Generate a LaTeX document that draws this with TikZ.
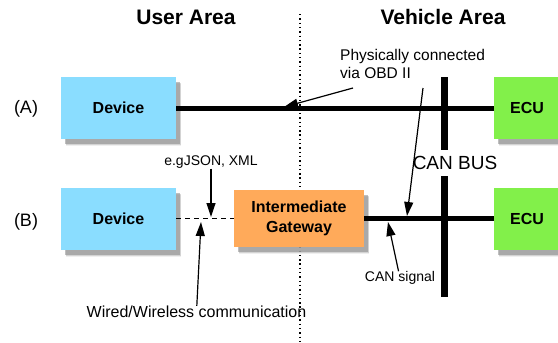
\documentclass[tikz,border=0pt]{standalone}
\usepackage{fontspec}
\setmainfont{Liberation Sans}
\usepackage{tikz}
\usetikzlibrary{arrows.meta,positioning,shadows}

\begin{document}
\begin{tikzpicture}[x=1pt,y=-1pt,
    area/.style = {font=\fontsize{21}{25}\selectfont\bfseries},
    note/.style = {font=\fontsize{15.5}{18}\selectfont, inner sep=0pt},
    small/.style = {font=\fontsize{14}{17}\selectfont, inner sep=0pt},
    block/.style = {inner sep=0pt, font=\fontsize{16}{20}\selectfont\bfseries,
        drop shadow={shadow xshift=5pt, shadow yshift=-7pt, fill=black!12, rounded corners=4pt},
        drop shadow={shadow xshift=4.5pt, shadow yshift=-6pt, fill=black!28, rounded corners=3pt},
        drop shadow={shadow xshift=4pt, shadow yshift=-5pt, fill=black!50, rounded corners=2pt}},
    device/.style = {block, fill={rgb,255:red,138;green,221;blue,255}, minimum width=115pt, minimum height=62pt},
    ecu/.style = {block, fill={rgb,255:red,130;green,240;blue,74}, minimum width=66pt, minimum height=62pt},
    gateway/.style = {block, fill={rgb,255:red,255;green,170;blue,90}, minimum width=130pt, minimum height=57pt, align=center},
    wire/.style = {line width=5pt},
    pointer/.style = {line width=1.2pt, -{Triangle[length=14pt,width=9pt]}}]

    \useasboundingbox (0,0) rectangle (558,343);

    % areas
    \node [area] (user) at (186,17) {User Area};
    \node [area] (vehicle) at (443,17) {Vehicle Area};
    \coordinate (sepTop) at (300,14);
    \coordinate (sepBot) at (300,343);
    \draw [line width=1.3pt, dash pattern=on 1.4pt off 2.9pt] (sepTop) -- (sepBot);

    % CAN bus
    \coordinate (busTop) at (444,77);
    \coordinate (busBot) at (444,297);
    \draw [line width=7pt] (busTop) -- (busBot);
    \node [font=\fontsize{19}{22}\selectfont, fill=white, inner xsep=1pt, inner ysep=0pt,
        minimum height=26pt] (busLabel) at (455,163) {CAN BUS};

    % row (A)
    \node [font=\fontsize{18}{21}\selectfont] (rowA) at (26,109) {(A)};
    \node [device] (devA) at (118.5,108) {Device};
    \node [ecu] (ecuA) at (527,108) {ECU};
    \draw [wire] (devA) -- (ecuA);

    % row (B)
    \node [font=\fontsize{18}{21}\selectfont] (rowB) at (26,222) {(B)};
    \node [device] (devB) at (118.5,218.5) {Device};
    \node [gateway] (gw) at (299,218.5) {Intermediate\\Gateway};
    \node [ecu] (ecuB) at (527,218.5) {ECU};
    \draw [line width=1.5pt, dash pattern=on 5pt off 4pt] (devB) -- (gw);
    \draw [wire] (gw) -- (ecuB);

    % notes
    \node [note, align=left, anchor=north west] (obd) at (340,49) {Physically connected\\via OBD II};
    \coordinate (obdFromA) at (353,88);
    \coordinate (obdToA) at (284,107);
    \coordinate (obdFromB) at (423,88);
    \coordinate (obdToB) at (407,216);
    \draw [pointer] (obdFromA) -- (obdToA);
    \draw [pointer] (obdFromB) -- (obdToB);

    \node [small] (fmt) at (211,162) {e.gJSON, XML};
    \coordinate (fmtTo) at (211,217);
    \draw [pointer] (fmt) -- (fmtTo);

    \node [note, font=\fontsize{16}{19}\selectfont] (link) at (196.5,312) {Wired/Wireless communication};
    \coordinate (linkTo) at (201,222);
    \draw [pointer] (link) -- (linkTo);

    \node [small] (sig) at (400,278) {CAN signal};
    \coordinate (sigTo) at (388,222);
    \draw [pointer] (sig) -- (sigTo);
\end{tikzpicture}
\end{document}
